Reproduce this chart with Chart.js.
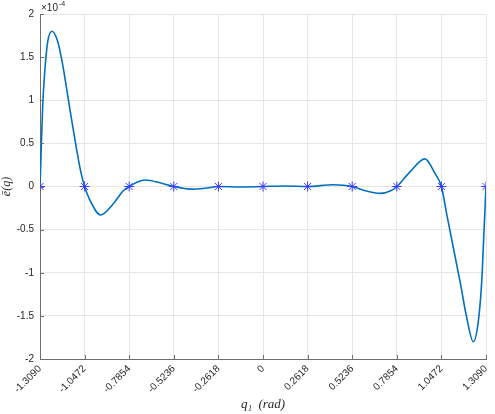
<!DOCTYPE html>
<html>
<head>
<meta charset="utf-8">
<script src="https://cdn.jsdelivr.net/npm/chart.js@4.4.1/dist/chart.umd.min.js"></script>
<style>
  html, body { margin: 0; padding: 0; background: #fff; }
  #wrap { width: 495px; height: 414px; }
</style>
</head>
<body>
<div id="wrap"><canvas id="errChart" width="495" height="414"></canvas></div>
<script>
// values in units of 1e-4
const CURVE_X = [-1.3090, -1.3031, -1.2932, -1.2796, -1.2638, -1.2386, -1.2051, -1.1757, -1.1370, -1.0977,
    -1.0684, -1.0472, -1.0155, -0.9530, -0.8788, -0.8202, -0.7854, -0.7400, -0.6900, -0.6000,
    -0.5236, -0.4275, -0.3400, -0.2618, -0.1300, 0, 0.1300, 0.2618, 0.4100, 0.5236,
    0.6000, 0.6860, 0.7500, 0.7854, 0.8630, 0.9500, 1.0100, 1.0472, 1.0784, 1.1172,
    1.1565, 1.1958, 1.2346, 1.2640, 1.2839, 1.2974, 1.3090];
const CURVE_Y = [0, 0.36, 0.94, 1.37, 1.68, 1.80, 1.68, 1.41, 0.94, 0.47,
    0.16, 0, -0.16, -0.33, -0.20, -0.05, 0, 0.05, 0.075, 0.04,
    0, -0.03, -0.02, 0, -0.005, 0, 0.005, 0, 0.02, 0,
    -0.05, -0.08, -0.05, 0, 0.17, 0.32, 0.15, 0, -0.32, -0.71,
    -1.10, -1.52, -1.80, -1.56, -1.10, -0.51, 0];
const NODE_X = [-1.3090, -1.0472, -0.7854, -0.5236, -0.2618, 0, 0.2618, 0.5236, 0.7854, 1.0472, 1.3090];
const NODE_Y = [0, 0, 0, 0, 0, 0, 0, 0, 0, 0, 0];
const X_TICKS = NODE_X;
const Y_TICKS = [-2, -1.5, -1, -0.5, 0, 0.5, 1, 1.5, 2];

const AXIS_COLOR = '#6e6e6e';
const TEXT_COLOR = '#262626';
const TICK_FONT = { family: '"Liberation Sans", Arial, sans-serif', size: 10 };

const curvePts = CURVE_X.map((x, i) => ({ x: x, y: CURVE_Y[i] }));
const nodePts = NODE_X.map((x, i) => ({ x: x, y: NODE_Y[i] }));

// inward tick marks + exponent label, MATLAB style
const matlabAxes = {
    id: 'matlabAxes',
    afterDraw(chart) {
        const ctx = chart.ctx;
        const xs = chart.scales.x, ys = chart.scales.y;
        const a = chart.chartArea;
        ctx.save();
        ctx.strokeStyle = AXIS_COLOR;
        ctx.lineWidth = 1;
        ctx.beginPath();
        X_TICKS.forEach(v => {
            const px = Math.round(xs.getPixelForValue(v)) + 0.5;
            ctx.moveTo(px, a.bottom);
            ctx.lineTo(px, a.bottom - 4);
        });
        Y_TICKS.forEach(v => {
            const py = Math.round(ys.getPixelForValue(v)) + 0.5;
            ctx.moveTo(a.left, py);
            ctx.lineTo(a.left + 4, py);
        });
        ctx.stroke();

        ctx.fillStyle = TEXT_COLOR;
        ctx.textBaseline = 'alphabetic';
        ctx.textAlign = 'left';
        ctx.font = '10px "Liberation Sans", Arial, sans-serif';
        ctx.fillText('\u00d710', a.left + 1, a.top - 3);
        const w = ctx.measureText('\u00d710').width;
        ctx.font = '7px "Liberation Sans", Arial, sans-serif';
        ctx.fillText('-4', a.left + 1 + w + 1, a.top - 8);
        ctx.restore();
    }
};

new Chart(document.getElementById('errChart').getContext('2d'), {
    type: 'scatter',
    data: {
        datasets: [{
            data: nodePts,
            showLine: false,
            pointStyle: 'star',
            pointRadius: 5,
            pointBorderColor: '#3a3aff',
            pointBackgroundColor: '#3a3aff',
            pointBorderWidth: 1,
        }, {
            data: curvePts,
            showLine: true,
            borderColor: '#0072BD',
            borderWidth: 1.6,
            pointRadius: 0,
            cubicInterpolationMode: 'monotone',
            fill: false,
        }]
    },
    options: {
        responsive: false,
        animation: false,
        devicePixelRatio: 1,
        layout: { padding: { top: 14, right: 9, left: 0, bottom: 0 } },
        plugins: {
            legend: { display: false },
            tooltip: { enabled: false }
        },
        scales: {
            x: {
                type: 'linear',
                min: -1.309,
                max: 1.309,
                afterBuildTicks: s => { s.ticks = X_TICKS.map(v => ({ value: v })); },
                afterFit: s => { s.height = 55; s.paddingRight = 0; s.paddingLeft = 0; },
                grid: { color: '#e6e6e6', drawTicks: false },
                border: { color: AXIS_COLOR, width: 1 },
                ticks: {
                    color: TEXT_COLOR,
                    font: TICK_FONT,
                    minRotation: 45,
                    maxRotation: 45,
                    padding: 4,
                    autoSkip: false,
                    callback: v => (Math.abs(v) < 1e-9 ? '0' : v.toFixed(4))
                },
                title: {
                    display: true,
                    text: 'q\u2081  (rad)',
                    color: TEXT_COLOR,
                    font: { family: '"Liberation Serif", "DejaVu Serif", serif', style: 'italic', size: 13 },
                    padding: { top: 0, bottom: 2 }
                }
            },
            y: {
                min: -2,
                max: 2,
                afterBuildTicks: s => { s.ticks = Y_TICKS.map(v => ({ value: v })); },
                afterFit: s => { s.width = 40; s.paddingTop = 0; s.paddingBottom = 0; },
                grid: { color: '#e6e6e6', drawTicks: false },
                border: { color: AXIS_COLOR, width: 1 },
                ticks: {
                    color: TEXT_COLOR,
                    font: TICK_FONT,
                    padding: 6,
                    callback: v => String(v)
                },
                title: {
                    display: true,
                    text: '\u0113(q)',
                    color: TEXT_COLOR,
                    font: { family: '"Liberation Serif", "DejaVu Serif", serif', style: 'italic', size: 12 },
                    padding: { top: 0, bottom: 0 }
                }
            }
        }
    },
    plugins: [matlabAxes]
});
</script>
</body>
</html>
